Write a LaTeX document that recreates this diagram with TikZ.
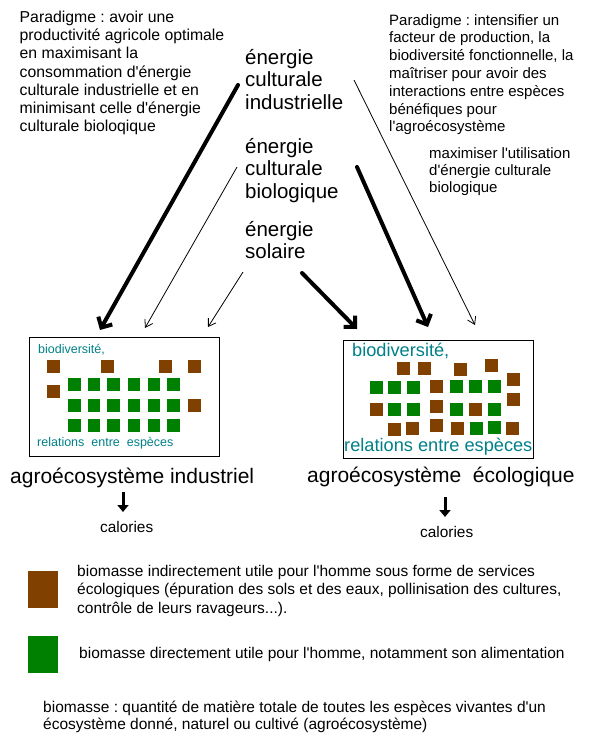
\documentclass[tikz,border=0pt]{standalone}
\usepackage{fontspec}
\setmainfont{Liberation Sans}
\usetikzlibrary{arrows.meta}
\frenchspacing

\definecolor{soilbrown}{RGB}{128,64,0}
\definecolor{cropgreen}{RGB}{0,128,0}
\definecolor{bioteal}{RGB}{0,128,136}
\newcommand{\apos}{\textquotesingle}

\begin{document}
\begin{tikzpicture}[ x=1pt, y=-1pt, >=Latex,
    txt/.style={anchor=base west, inner sep=0pt, align=left},
    para/.style={txt, font=\fontsize{15.5}{18.2}\selectfont},
    energy/.style={txt, font=\fontsize{20.5}{22.5}\selectfont},
    sys/.style={txt, font=\fontsize{21}{25}\selectfont},
    cal/.style={txt, font=\fontsize{15.4}{18}\selectfont},
    boxtxt/.style={txt, text=bioteal},
    agrobox/.style={draw, line width=1pt, inner sep=0pt, minimum width=190pt},
    strong/.style={line width=4pt, line cap=round,
      -{Straight Barb[length=8pt,width=16pt]}},
    weak/.style={line width=0.8pt, -{Straight Barb[length=7pt,width=9pt]}},
    down/.style={line width=3pt, -{Triangle[length=7pt,width=11pt]}} ]

    \path[use as bounding box, fill=white] (0,0) rectangle (594,747);

    % multi-line nodes sit on the baseline of their last line
    \node[para, font=\fontsize{15.8}{18.2}\selectfont] (goalind) at (19.5,131.7)
      {Paradigme : avoir une\\
      productivité agricole optimale\\
      en maximisant la\\
      consommation d\apos énergie\\
      culturale industrielle et en\\
      minimisant celle d\apos énergie\\
      culturale bioloqique};

    \node[para, font=\fontsize{15}{17.8}\selectfont] (goaleco) at (389,131.8)
      {Paradigme : intensifier un\\
      facteur de production, la\\
      biodiversité fonctionnelle, la\\
      maîtriser pour avoir des\\
      interactions entre espèces\\
      bénéfiques pour\\
      l\apos agroécosystème};

    \node[para, font=\fontsize{15}{17}\selectfont] (maxbio) at (429,192)
      {maximiser l\apos utilisation\\
      d\apos énergie culturale\\
      biologique};

    \node[energy] (ind) at (245,109) {énergie\\culturale\\industrielle};
    \node[energy] (bio) at (245,198) {énergie\\culturale\\biologique};
    \node[energy] (sol) at (245,258.5) {énergie\\solaire};

    \node[agrobox, minimum height=119pt] (indbox) at (124,396.5) {};
    \node[agrobox, minimum height=118pt] (ecobox) at (438,399) {};

    \node[boxtxt, font=\fontsize{12.5}{15}\selectfont] (indbio) at (38,353)
      {biodiversité,};
    \node[boxtxt, font=\fontsize{12.5}{15}\selectfont] (indrel) at (37,446.5)
      {relations\ \ entre\ \ espèces};
    \node[boxtxt, font=\fontsize{18.2}{21}\selectfont] (ecobio) at (352,356.5)
      {biodiversité,};
    \node[boxtxt, font=\fontsize{18.2}{21}\selectfont] (ecorel) at (344,451.5)
      {relations entre espèces};

    \foreach \x/\y in {47/360, 101/360, 159/360, 188/360, 47/385, 188/399}
      \fill[soilbrown] (\x,\y) rectangle +(12.5,12.5);
    \foreach \x in {68, 87.5, 107, 127.5, 147.5, 167}
      \foreach \y in {378, 399, 419}
        \fill[cropgreen] (\x,\y) rectangle +(12.5,12.5);

    \foreach \x/\y in {397/362, 418/362, 454/363, 485/359, 507/373,
        430/380, 507/393, 370/403, 430/400, 469/403,
        388/423, 406/422, 430/419, 451/422, 506/422}
      \fill[soilbrown] (\x,\y) rectangle +(12.5,12.5);
    \foreach \x/\y in {370/381, 388/381, 407/381, 450/380, 469/380, 488/380,
        388/403, 407/403, 450/403, 488/403, 470/422, 488/421}
      \fill[cropgreen] (\x,\y) rectangle +(12.5,12.5);

    \coordinate (ind-l) at (238,85);
    \coordinate (ind-r) at (354,80);
    \coordinate (bio-l) at (237,167);
    \coordinate (bio-r) at (357,167);
    \coordinate (sol-l) at (243,272);
    \coordinate (sol-r) at (302,273);
    \coordinate (indbox-1) at (100,330);
    \coordinate (indbox-2) at (145,328);
    \coordinate (indbox-3) at (208,327);
    \coordinate (ecobox-1) at (357,329);
    \coordinate (ecobox-2) at (428,327);
    \coordinate (ecobox-3) at (475,325);

    \draw[strong] (ind-l) -- (indbox-1);
    \draw[weak] (bio-l) -- (indbox-2);
    \draw[weak] (sol-l) -- (indbox-3);
    \draw[strong] (sol-r) -- (ecobox-1);
    \draw[strong] (bio-r) -- (ecobox-2);
    \draw[weak] (ind-r) -- (ecobox-3);

    \node[sys] (indlab) at (10,483) {agroécosystème industriel};
    \node[sys] (ecolab) at (307,482) {agroécosystème\ \ écologique};

    \coordinate (indout) at (123,492);
    \coordinate (ecoout) at (445,497);
    \node[cal] (calind) at (100,532) {calories};
    \node[cal] (caleco) at (420,537) {calories};
    \draw[down] (indout) -- ++(0,20);
    \draw[down] (ecoout) -- ++(0,20);

    \fill[soilbrown] (28,571) rectangle (58,608);
    \fill[cropgreen] (28,636) rectangle (58,673);

    \node[para] (keyind) at (77,613)
      {biomasse indirectement utile pour l\apos homme sous forme de services\\
      écologiques (épuration des sols et des eaux, pollinisation des cultures,\\
      contrôle de leurs ravageurs...).};
    \node[para] (keydir) at (79,658)
      {biomasse directement utile pour l\apos homme, notamment son alimentation};
    \node[para, font=\fontsize{15.5}{17.5}\selectfont] (keydef) at (43,729.5)
      {biomasse : quantité de matière totale de toutes les espèces vivantes d\apos un\\
      écosystème donné, naturel ou cultivé (agroécosystème)};

  \end{tikzpicture}
\end{document}
